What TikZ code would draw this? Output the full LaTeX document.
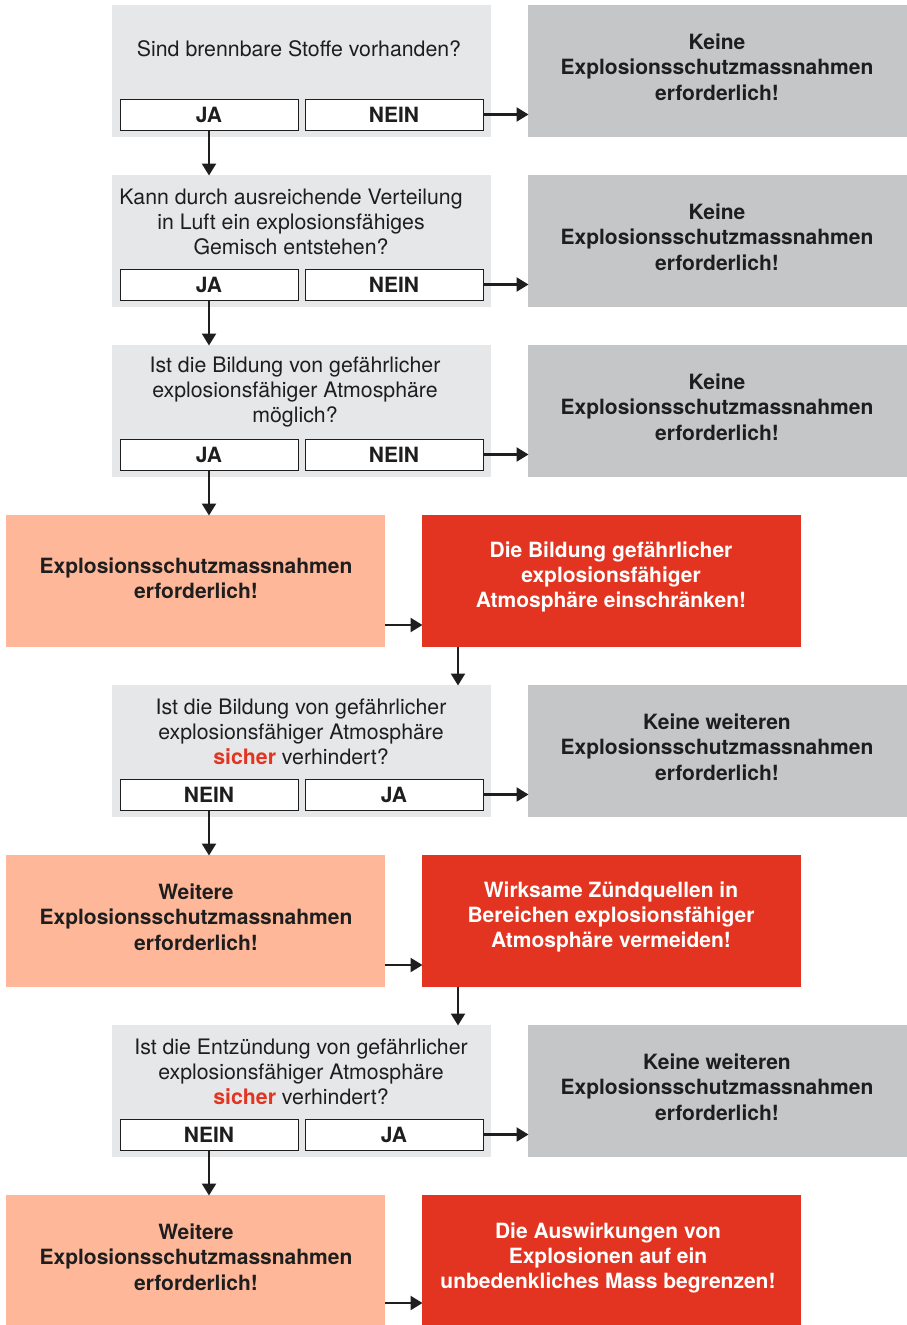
\documentclass[tikz,border=0pt]{standalone}
\usepackage{fontspec}
\setmainfont{TeX Gyre Heros}
\usetikzlibrary{arrows.meta,calc}
\definecolor{qgray}{HTML}{E6E7E8}
\definecolor{kgray}{HTML}{C5C6C8}
\definecolor{orng}{HTML}{FFB799}
\definecolor{rred}{HTML}{E23420}
\definecolor{txt}{HTML}{1E1E1E}
\tikzset{
  box/.style={anchor=north west,inner sep=0pt,outer sep=0pt,minimum width=379pt,minimum height=132pt},
  qbox/.style={box,fill=qgray},
  kbox/.style={box,fill=kgray},
  obox/.style={box,fill=orng},
  rbox/.style={box,fill=rred},
  btn/.style={anchor=north west,draw=txt,line width=1pt,fill=white,inner sep=0pt,outer sep=0pt,minimum width=178pt,minimum height=31pt,font=\fontsize{21}{25}\selectfont\bfseries,text=txt},
  qtext/.style={align=center,inner sep=0pt,font=\fontsize{21.3}{25.3}\selectfont,text=txt},
  btext/.style={align=center,inner sep=0pt,font=\fontsize{21}{25.3}\selectfont\bfseries,text=txt},
  wtext/.style={align=center,inner sep=0pt,font=\fontsize{21}{25.3}\selectfont\bfseries,text=white},
  arr/.style={line width=2.4pt,draw=txt,-{Triangle[length=12pt,width=14pt]},shorten >=-0.5pt}
}
\newcommand{\sich}{\textcolor{rred}{\bfseries sicher}}
\begin{document}
\begin{tikzpicture}[x=1pt,y=-1pt]
\useasboundingbox[fill=white] (0,0) rectangle (906,1325);
% Row 1
\node[qbox] (q1) at (112,5) {};
\node[kbox] (k1) at (528,5) {};
\node[qtext] (q1t) at (299,49) {Sind brennbare Stoffe vorhanden?};
\node[btn] (q1a) at (120,99) {JA};
\node[btn] (q1b) at (305,99) {NEIN};
\node[btext] (k1t) at (717,67) {Keine\\Explosionsschutzmassnahmen\\erforderlich!};
% Row 2
\node[qbox] (q2) at (112,175) {};
\node[kbox] (k2) at (528,175) {};
\node[qtext] (q2t) at (291,222) {Kann durch ausreichende Verteilung\\in Luft ein explosionsfähiges\\Gemisch entstehen?};
\node[btn] (q2a) at (120,269) {JA};
\node[btn] (q2b) at (305,269) {NEIN};
\node[btext] (k2t) at (717,237) {Keine\\Explosionsschutzmassnahmen\\erforderlich!};
% Row 3
\node[qbox] (q3) at (112,345) {};
\node[kbox] (k3) at (528,345) {};
\node[qtext] (q3t) at (295,392) {Ist die Bildung von gefährlicher\\explosionsfähiger Atmosphäre\\möglich?};
\node[btn] (q3a) at (120,439) {JA};
\node[btn] (q3b) at (305,439) {NEIN};
\node[btext] (k3t) at (717,407) {Keine\\Explosionsschutzmassnahmen\\erforderlich!};
% Row 4
\node[obox] (o4) at (6,515) {};
\node[rbox] (r4) at (422,515) {};
\node[btext] (o4t) at (196,578) {Explosionsschutzmassnahmen\\erforderlich!};
\node[wtext] (r4t) at (611,577) {Die Bildung gefährlicher\\explosionsfähiger\\Atmosphäre einschränken!};
% Row 5
\node[qbox] (q5) at (112,685) {};
\node[kbox] (k5) at (528,685) {};
\node[qtext] (q5t) at (301,732) {Ist die Bildung von gefährlicher\\explosionsfähiger Atmosphäre\\\sich{} verhindert?};
\node[btn] (q5a) at (120,779) {NEIN};
\node[btn] (q5b) at (305,779) {JA};
\node[btext] (k5t) at (717,747) {Keine weiteren\\Explosionsschutzmassnahmen\\erforderlich!};
% Row 6
\node[obox] (o6) at (6,855) {};
\node[rbox] (r6) at (422,855) {};
\node[btext] (o6t) at (196,917) {Weitere\\Explosionsschutzmassnahmen\\erforderlich!};
\node[wtext] (r6t) at (611,917) {Wirksame Zündquellen in\\Bereichen explosionsfähiger\\Atmosphäre vermeiden!};
% Row 7
\node[qbox] (q7) at (112,1025) {};
\node[kbox] (k7) at (528,1025) {};
\node[qtext] (q7t) at (301,1072) {Ist die Entzündung von gefährlicher\\explosionsfähiger Atmosphäre\\\sich{} verhindert?};
\node[btn] (q7a) at (120,1119) {NEIN};
\node[btn] (q7b) at (305,1119) {JA};
\node[btext] (k7t) at (717,1087) {Keine weiteren\\Explosionsschutzmassnahmen\\erforderlich!};
% Row 8
\node[obox,minimum height=130pt] (o8) at (6,1195) {};
\node[rbox,minimum height=130pt] (r8) at (422,1195) {};
\node[btext] (o8t) at (196,1257) {Weitere\\Explosionsschutzmassnahmen\\erforderlich!};
\node[wtext] (r8t) at (608,1258) {Die Auswirkungen von\\Explosionen auf ein\\unbedenkliches Mass begrenzen!};
% Arrows right
\foreach \q/\k in {q1b/k1,q2b/k2,q3b/k3,q5b/k5,q7b/k7}
  \draw[arr] (\q.east) -- (\q.east -| \k.west);
% Arrows down
\draw[arr] (q1a.south) -- (q1a.south |- q2.north);
\draw[arr] (q2a.south) -- (q2a.south |- q3.north);
\draw[arr] (q3a.south) -- (q3a.south |- o4.north);
\draw[arr] (q5a.south) -- (q5a.south |- o6.north);
\draw[arr] (q7a.south) -- (q7a.south |- o8.north);
% orange -> red
\foreach \o/\r in {o4/r4,o6/r6,o8/r8}{
  \coordinate (\o x) at ([yshift=22pt]\o.south east);
  \draw[arr] (\o x) -- (\o x -| \r.west);
}
% red -> next question
\coordinate (r4d) at ([xshift=36pt]r4.south west);
\draw[arr] (r4d) -- (r4d |- q5.north);
\coordinate (r6d) at ([xshift=36pt]r6.south west);
\draw[arr] (r6d) -- (r6d |- q7.north);
\end{tikzpicture}
\end{document}
